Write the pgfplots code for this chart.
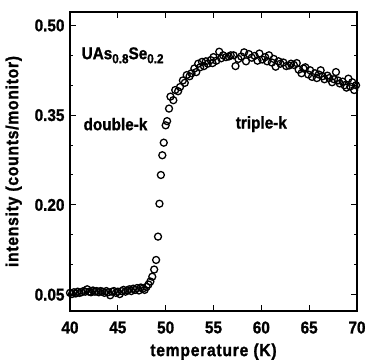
\documentclass[border=0pt]{standalone}
\usepackage{fontspec}
\setmainfont{Liberation Sans}[FakeStretch=0.9, BoldFeatures={FakeBold=1.3}]
\usepackage{pgfplots}
\pgfplotsset{compat=1.18}
\usetikzlibrary{calc}
\newcommand{\lbl}{\fontsize{17.5}{20}\selectfont\bfseries\addfontfeatures{LetterSpace=4}}
\begin{document}
\begin{tikzpicture}
\begin{axis}[name=ax,
  scale only axis, width=287pt, height=299pt,
  xmin=40, xmax=70, ymin=0.0227, ymax=0.5224,
  xtick={40,45,...,70},
  ytick={0.05,0.20,0.35,0.50},
  minor y tick num=2,
  tick align=inside, major tick length=6pt, minor tick length=3.5pt,
  every tick/.style={line width=1pt, black},
  axis line style={line width=1.5pt},
  /pgf/number format/assume math mode=true,
  yticklabel style={/pgf/number format/fixed, /pgf/number format/fixed zerofill, /pgf/number format/precision=2, xshift=-2pt},
  tick label style={font=\fontsize{17}{20}\selectfont\bfseries},
  xticklabel style={yshift=-7pt},
  label style={font=\lbl},
  xlabel={temperature (K)},
  ylabel={intensity (counts/monitor)},
  xlabel style={yshift=-3pt},
  ylabel style={yshift=6pt},
  clip=false,
]
\addplot[only marks, mark=o, mark size=3.5pt, mark options={line width=1.3pt, black}] coordinates {
(40.0,0.053)(40.2,0.051)(40.4,0.054)(40.6,0.052)(40.8,0.055)(41.0,0.053)(41.2,0.054)(41.4,0.056)(41.6,0.055)(41.8,0.059)
(42.0,0.055)(42.2,0.054)(42.4,0.057)(42.6,0.055)(42.8,0.056)(43.0,0.054)(43.2,0.056)(43.4,0.055)(43.6,0.053)(43.8,0.056)
(44.0,0.054)(44.2,0.049)(44.4,0.055)(44.6,0.056)(44.8,0.053)(45.0,0.055)(45.2,0.051)(45.4,0.056)(45.6,0.058)(45.8,0.055)
(46.0,0.057)(46.2,0.059)(46.4,0.056)(46.6,0.060)(46.8,0.058)(47.0,0.061)(47.2,0.057)(47.4,0.062)(47.6,0.060)(47.8,0.058)
(48.0,0.063)(48.2,0.067)(48.4,0.072)(48.6,0.080)(48.8,0.092)(49.0,0.108)(49.2,0.147)(49.35,0.202)(49.5,0.250)(49.65,0.283)
(49.8,0.304)(50.0,0.333)(50.15,0.340)(50.35,0.361)(50.5,0.381)(50.8,0.375)(51.0,0.392)(51.3,0.390)(51.5,0.397)(51.8,0.408)
(52.0,0.404)(52.2,0.417)(52.5,0.415)(52.7,0.420)(53.0,0.428)(53.2,0.422)(53.4,0.436)(53.6,0.430)(53.8,0.439)(54.0,0.432)
(54.2,0.440)(54.4,0.436)(54.7,0.442)(54.9,0.437)(55.0,0.447)(55.3,0.441)(55.6,0.456)(55.8,0.445)(56.0,0.450)(56.3,0.447)
(56.6,0.448)(56.8,0.450)(57.1,0.450)(57.3,0.432)(57.6,0.444)(57.9,0.448)(58.2,0.455)(58.4,0.440)(58.7,0.452)(59.0,0.446)
(59.3,0.449)(59.6,0.441)(59.8,0.453)(60.1,0.443)(60.4,0.447)(60.6,0.440)(60.8,0.450)(61.1,0.438)(61.3,0.444)(61.5,0.431)
(61.8,0.440)(62.0,0.436)(62.3,0.438)(62.6,0.432)(62.9,0.433)(63.1,0.436)(63.4,0.434)(63.7,0.437)(63.9,0.426)(64.2,0.420)
(64.4,0.428)(64.6,0.430)(64.9,0.418)(65.1,0.425)(65.3,0.414)(65.6,0.420)(65.8,0.412)(66.0,0.418)(66.2,0.425)(66.4,0.415)
(66.6,0.410)(66.9,0.416)(67.1,0.412)(67.4,0.405)(67.6,0.410)(67.8,0.422)(68.0,0.408)(68.2,0.403)(68.5,0.406)(68.7,0.400)
(68.9,0.396)(69.1,0.411)(69.3,0.398)(69.5,0.405)(69.7,0.392)(69.9,0.400)
};
\node[anchor=west, font=\fontsize{17}{20}\selectfont\bfseries, inner sep=0pt] at (axis cs:41.2,0.450) {UAs\raisebox{-4pt}{\fontsize{13}{14}\selectfont 0.8}Se\raisebox{-4pt}{\fontsize{13}{14}\selectfont 0.2}};
\node[anchor=west, font=\fontsize{17}{20}\selectfont\bfseries, inner sep=0pt] at (axis cs:41.4,0.335) {double-k};
\node[font=\fontsize{17}{20}\selectfont\bfseries, inner sep=0pt] at (axis cs:60.0,0.335) {triple-k};
\end{axis}
\pgfresetboundingbox
\useasboundingbox ($(ax.south west)+(-70pt,-50pt)$) rectangle ($(ax.north east)+(11pt,12pt)$);
\end{tikzpicture}
\end{document}
